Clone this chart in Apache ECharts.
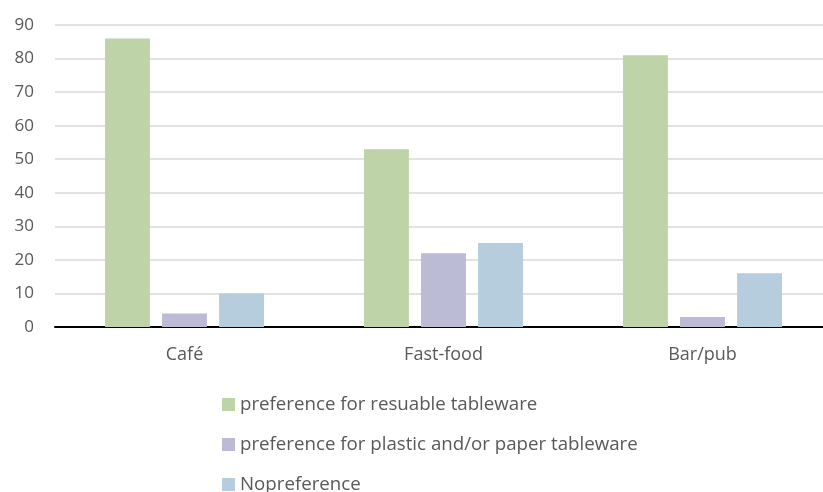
<!DOCTYPE html>
<html><head><meta charset="utf-8">
<script src="https://cdn.jsdelivr.net/npm/echarts@6/dist/echarts.min.js"></script>
<style>html,body{margin:0;padding:0;background:#fff}#c{width:823px;height:492px}</style>
</head><body><div id="c"></div>
<script>
const categories = ['Café', 'Fast-food', 'Bar/pub'];
const seriesNames = ['preference for resuable tableware', 'preference for plastic and/or paper tableware', 'Nopreference'];
const reusable = [86, 53, 81];
const plastic = [4, 22, 3];
const noPref = [10, 25, 16];
const colors = ['#BED3A7', '#BBBBD6', '#B5CDDD'];
const font = '"Open Sans", Lato, sans-serif';
const chart = echarts.init(document.getElementById('c'));
chart.setOption({
  animation: false,
  color: colors,
  grid: { left: 55, width: 777, top: 25, height: 302, containLabel: false, outerBoundsMode: 'none' },
  legend: {
    orient: 'vertical', left: 222, top: 395, height: 140, padding: 0,
    itemWidth: 13, itemHeight: 13, itemGap: 21,
    icon: 'rect',
    textStyle: { fontFamily: font, fontSize: 18.7, lineHeight: 18, color: '#595959' },
    data: seriesNames
  },
  xAxis: {
    type: 'category', data: categories,
    axisLine: { lineStyle: { color: '#000', width: 2 } },
    axisTick: { show: false },
    axisLabel: { fontFamily: font, fontSize: 18, color: '#595959', margin: 19 }
  },
  yAxis: {
    type: 'value', min: 0, max: 90, interval: 10,
    axisLine: { show: false }, axisTick: { show: false },
    splitLine: { lineStyle: { color: '#D9D9D9', width: 1.5 } },
    axisLabel: { fontFamily: font, fontSize: 17, color: '#595959', margin: 21 }
  },
  series: [
    { name: seriesNames[0], type: 'bar', data: reusable, barGap: '27%', barCategoryGap: '38.6%' },
    { name: seriesNames[1], type: 'bar', data: plastic },
    { name: seriesNames[2], type: 'bar', data: noPref }
  ]
});
</script></body></html>
